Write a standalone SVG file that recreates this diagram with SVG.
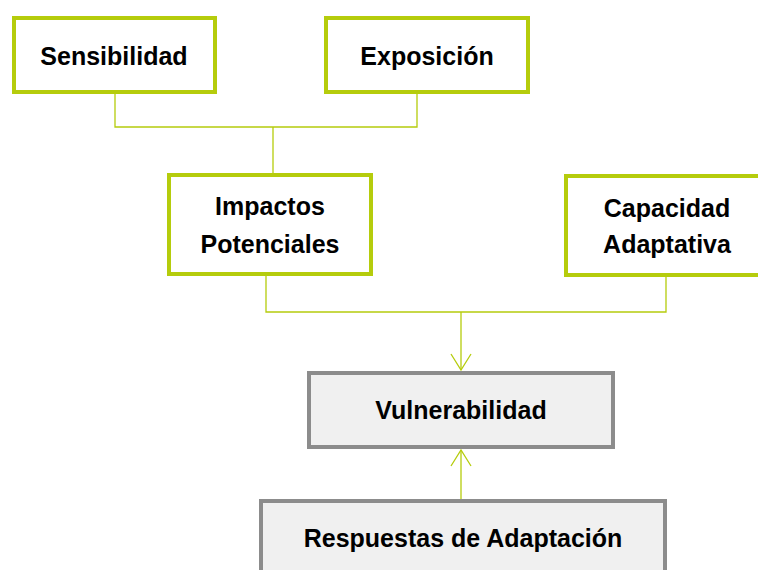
<svg xmlns="http://www.w3.org/2000/svg" width="758" height="570" viewBox="0 0 758 570">
<style>
.g{fill:#ffffff;stroke:#b5cc0c;stroke-width:4}
.v{fill:#f0f0f0;stroke:#8c8c8c;stroke-width:4}
.c{fill:none;stroke:#b5cc0c;stroke-width:1.3}
text{font-family:"Liberation Sans",Arial,sans-serif;font-weight:bold;font-size:25px;fill:#000;text-anchor:middle}
</style>
<defs>
<marker id="arr" markerWidth="24" markerHeight="24" refX="18" refY="12" orient="auto" markerUnits="userSpaceOnUse">
<path d="M2,2 L18,12 L2,22" fill="none" stroke="#b5cc0c" stroke-width="1.3"/>
</marker>
</defs>
<rect x="0" y="0" width="758" height="570" fill="#ffffff"/>
<g id="connectors">
<path class="c" d="M115,94 V127 H417 V94"/>
<path class="c" d="M273,127 V173"/>
<path class="c" d="M266,276 V312 H666 V277"/>
<path class="c" d="M461,312 V370" marker-end="url(#arr)"/>
<path class="c" d="M461,499 V450" marker-end="url(#arr)"/>
</g>
<g id="sensibilidad">
<rect class="g" x="14" y="18" width="201" height="74"/>
<text x="114" y="65">Sensibilidad</text>
</g>
<g id="exposicion">
<rect class="g" x="326" y="18" width="202" height="74"/>
<text x="427" y="65">Exposición</text>
</g>
<g id="impactos">
<rect class="g" x="169" y="175" width="202" height="99"/>
<text x="270" y="215">Impactos</text>
<text x="270" y="253">Potenciales</text>
</g>
<g id="capacidad">
<rect class="g" x="566" y="176" width="210" height="99"/>
<text x="667" y="217">Capacidad</text>
<text x="667" y="253">Adaptativa</text>
</g>
<g id="vulnerabilidad">
<rect class="v" x="309" y="373" width="304" height="74"/>
<text x="461" y="419">Vulnerabilidad</text>
</g>
<g id="respuestas">
<rect class="v" x="261" y="501" width="404" height="100"/>
<text x="463" y="547">Respuestas de Adaptación</text>
</g>
</svg>
